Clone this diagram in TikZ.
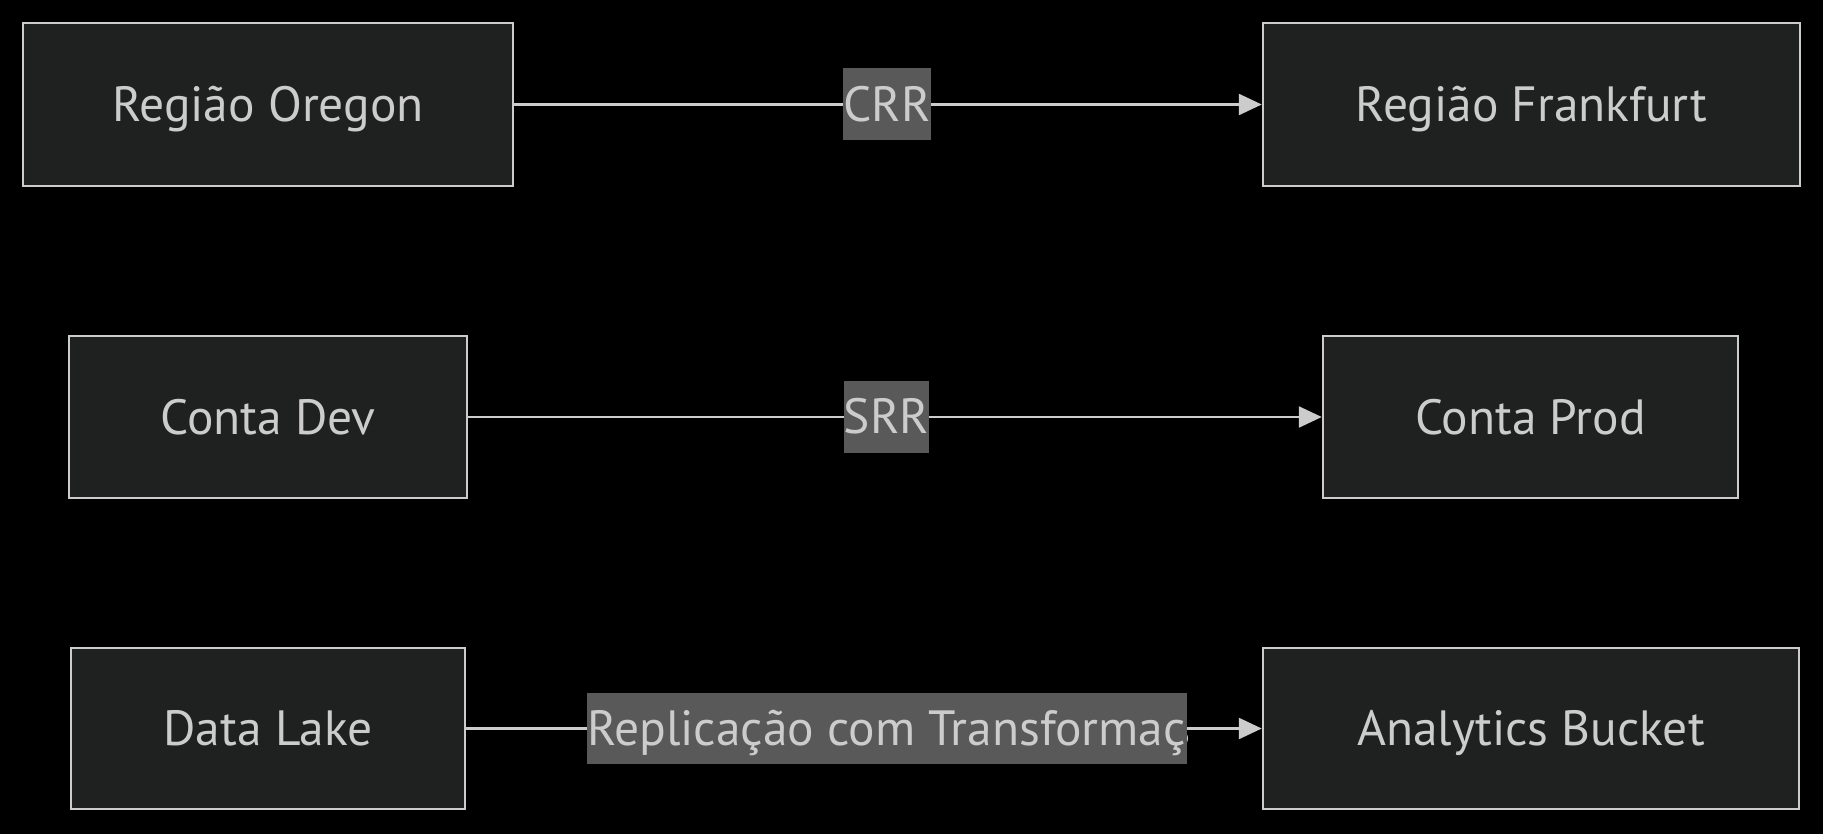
\documentclass[tikz,border=0pt]{standalone}
\usepackage{fontspec}
\setmainfont{PT Sans}
\usetikzlibrary{arrows.meta}
\definecolor{boxfill}{HTML}{1F2020}
\definecolor{boxline}{HTML}{CCCCCC}
\definecolor{txt}{HTML}{CCCCCC}
\definecolor{lblbg}{HTML}{595959}
\tikzset{
  box/.style={draw=boxline, fill=boxfill, line width=2.5pt, text=txt, inner sep=0pt,
    text height=34pt, text depth=0pt,
    font=\fontsize{49.5}{58}\selectfont},
  edge/.style={draw=boxline, line width=2.5pt, -{Triangle[length=23pt,width=21pt]}},
  lbl/.style={fill=lblbg, text=txt, inner xsep=0pt, inner ysep=0pt, minimum height=72pt,
    text height=34pt, text depth=0pt,
    font=\fontsize{49.5}{58}\selectfont},
}
\begin{document}
\begin{tikzpicture}[x=1pt,y=-1pt]
\fill[black] (0,0) rectangle (1823,834);
\useasboundingbox (0,0) rectangle (1823,834);
\node[box, minimum width=490pt, minimum height=163pt] (oregon) at (268,104.5) {Região Oregon};
\node[box, minimum width=537pt, minimum height=163pt] (frankfurt) at (1531.5,104.5) {Região Frankfurt};
\node[box, minimum width=398pt, minimum height=162pt] (dev) at (268,417) {Conta Dev};
\node[box, minimum width=415pt, minimum height=162pt] (prod) at (1530.5,417) {Conta Prod};
\node[box, minimum width=394pt, minimum height=161pt] (lake) at (268,728.5) {Data Lake};
\node[box, minimum width=536pt, minimum height=161pt] (analytics) at (1531,728.5) {Analytics Bucket};
\draw[edge] (oregon.east) -- (frankfurt.west);
\draw[edge] (dev.east) -- (prod.west);
\draw[edge] (lake.east) -- (analytics.west);
\node[lbl] (crr) at (887,104.5) {CRR};
\node[lbl] (srr) at (886.5,416.5) {SRR};
\begin{scope}
\clip (587,693) rectangle (1187,764);
\fill[lblbg] (587,693) rectangle (1187,764);
\node[lbl, fill=none, anchor=west] (repl) at (587,728.5) {Replicação com Transformação};
\end{scope}
\end{tikzpicture}
\end{document}
